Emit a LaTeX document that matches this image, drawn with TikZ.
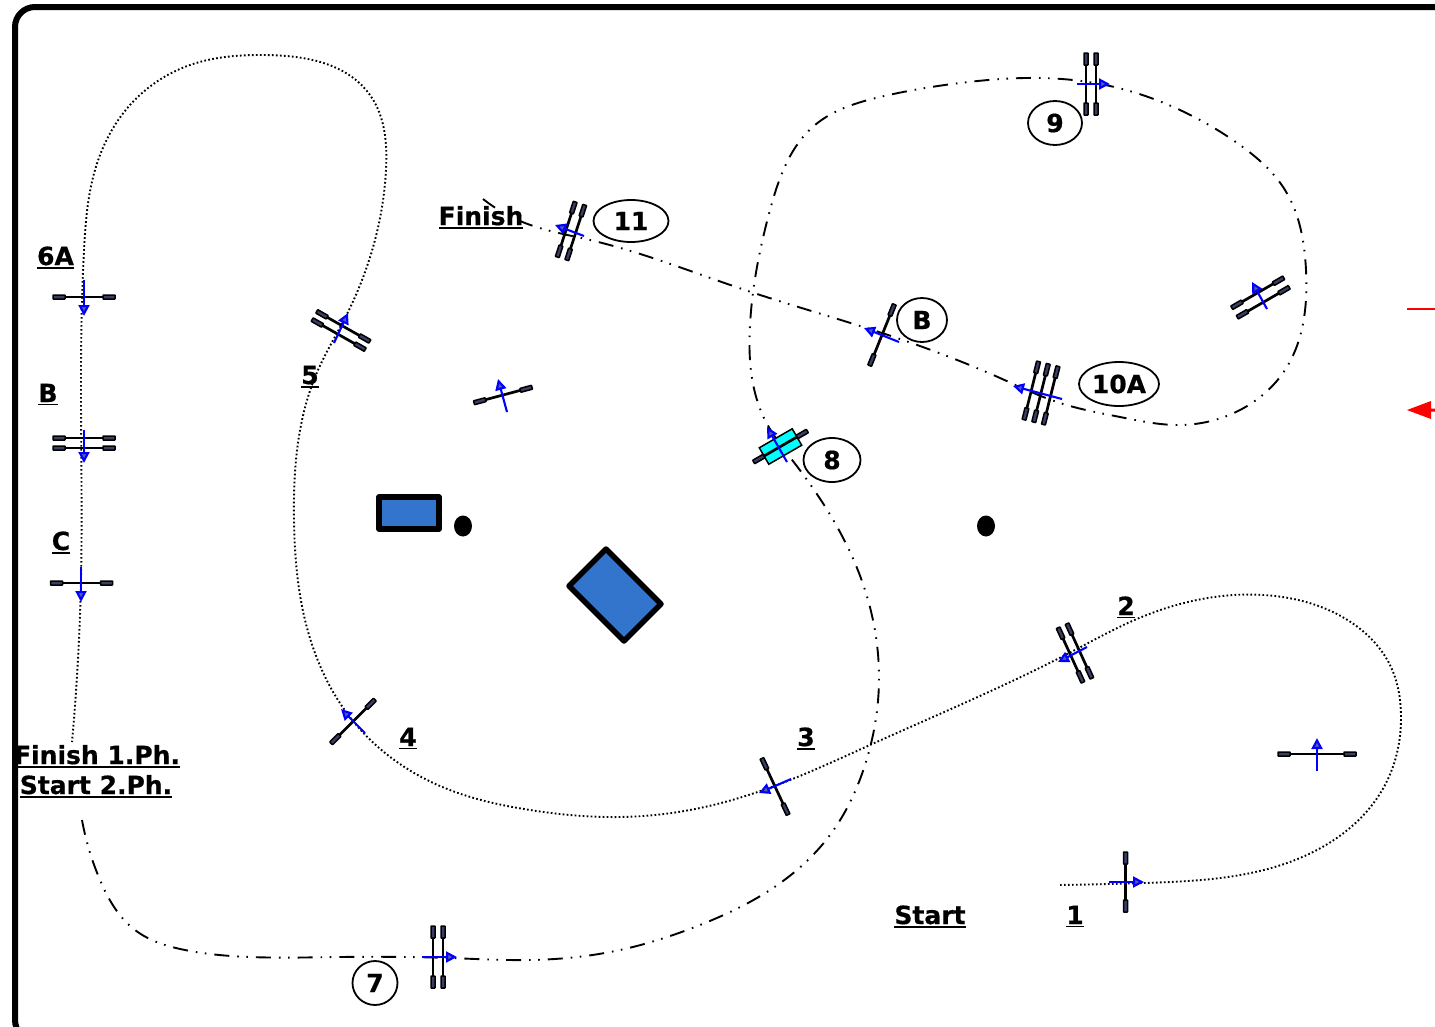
\documentclass[tikz,border=0pt]{standalone}
\usepackage{fontspec}
\setmainfont{DejaVu Sans}[BoldFeatures={FakeBold=0.6}]
\usetikzlibrary{arrows.meta,shapes.geometric,hobby}
\definecolor{obstacle}{HTML}{3374CC}
\definecolor{barblock}{HTML}{3A3F66}
\definecolor{waterfill}{RGB}{0,255,255}
\newcommand{\ulab}[1]{\vtop{\hbox{#1}\kern1.5pt\hrule height 1.8pt}}
\newcommand{\fencerails}[5]{%
  \begin{scope}[shift={(#1,#2)},rotate=#3]
    \foreach \off in {#5} {
      \draw[railline] (-#4,\off) -- (#4,\off);
      \draw[railblock] (-#4,\off-2) rectangle (-#4+12,\off+2);
      \draw[railblock] (#4-12,\off-2) rectangle (#4,\off+2);
    }
  \end{scope}}
\tikzset{
  railline/.style={black,line width=2.7pt},
  railblock/.style={draw=black,fill=barblock,line width=1.5pt,rounded corners=0.5pt},
  jumparrow/.style={blue,line width=2.1pt,-{Triangle[length=11pt,width=11pt,fill=gray!70!blue]}},
  phaseone/.style={black,line width=1.9pt,dash pattern=on 1.7pt off 2.3pt},
  phasetwo/.style={black,line width=1.9pt,dash pattern=on 15pt off 8pt on 1.6pt off 7.5pt on 1.6pt off 8pt},
  numoval/.style={draw=black,line width=1.8pt,ellipse,inner sep=0pt,fill=white},
  lab/.style={anchor=base,inner sep=0pt},
  block/.style={draw=black,line width=5.5pt,fill=obstacle,line join=round},
  every node/.append style={font=\fontsize{25}{30}\selectfont\bfseries}
}
\begin{document}
\begin{tikzpicture}[x=1pt,y=-1pt,use Hobby shortcut]
\useasboundingbox[fill=white] (0,0) rectangle (1435,1026);
% arena border
\draw[black,line width=6pt,rounded corners=20pt] (1435,7) -- (15,7) -- (15,1040) -- (40,1040);
% course, first phase
\draw[phaseone] (1060,885) .. (1144,883) .. (1300,858) .. (1385,785) .. (1401,715) .. (1390,665) .. (1355,625) .. (1275,596) .. (1130,622) .. (1075,650) .. (870,745) .. (790,780) .. (700,808) .. (620,817) .. (530,810) .. (440,786) .. (353,721) .. (305,620) .. (294,520) .. (318,370) .. (345,318) .. (375,240) .. (386,170) .. (370,95) .. (265,55) .. (190,65) .. (130,105) .. (95,170) .. (84,250) .. (81,400) .. (81,580) .. (72,742);
% course, second phase
\draw[phasetwo] (82,820) .. (100,880) .. (135,930) .. (185,950) .. (250,957) .. (340,957) .. (450,958) .. (530,960) .. (620,950) .. (700,925) .. (770,890) .. (830,835) .. (865,765) .. (879,680) .. (865,590) .. (796,465) .. (765,420) .. (750,325) .. (770,210) .. (815,125) .. (880,97) .. (960,83) .. (1040,78) .. (1110,86) .. (1180,110) .. (1240,145) .. (1285,190) .. (1306,270) .. (1285,370) .. (1240,410) .. (1180,425) .. (1120,417) .. (1060,403) .. (1000,378) .. (882,333) .. (745,290) .. (590,240) .. (525,223) .. (483,199);
% obstacles and markers
\draw[block] (379,497) rectangle (439,529);
\draw[block] (606,549) -- (661,604) -- (624,641) -- (569,586) -- cycle;
\fill[black] (463,526) ellipse[x radius=9,y radius=10.5];
\fill[black] (986,526) ellipse[x radius=9,y radius=10.5];
% red start line markers
\draw[red,line width=1.5pt] (1407,309) -- (1435,309);
\fill[red] (1407,410) -- (1431,401) -- (1431,408.5) -- (1435,408.5) -- (1435,411.5) -- (1431,411.5) -- (1431,419) -- cycle;
% fences
\fencerails{84}{297}{0}{31}{0}
\fencerails{84}{443}{0}{31}{-5,5}
\fencerails{81.5}{583}{0}{31}{0}
\fencerails{341}{330.5}{-29.5}{30.5}{-4.7,4.7}
\fencerails{503}{395}{15}{30}{0}
\fencerails{353}{721.5}{45}{31}{0}
\fencerails{775}{786.5}{-65}{31}{0}
\fencerails{1075}{653}{-65.5}{30}{-4.9,4.9}
\fencerails{1125.5}{882}{90}{30}{0}
\fencerails{1317}{754}{0}{39}{0}
\fencerails{438}{957}{90}{31}{-5,5}
\fill[waterfill,draw=black,line width=1.5pt,rotate around={30:(780.5,446.5)}] (761.5,437) rectangle (799.5,456);
\fencerails{780.5}{446.5}{30}{31}{0}
\fencerails{1091}{84}{90}{31}{-5,5}
\fencerails{1041}{393}{76}{30}{-10,0,10}
\fencerails{882}{335}{68}{33}{0}
\fencerails{571}{231}{72}{29}{-5,5}
\fencerails{1260.5}{297.5}{30}{30}{-5.5,5.5}
% direction arrows
\draw[jumparrow] (84,280) -- (84,316);
\draw[jumparrow] (84,430) -- (84,463);
\draw[jumparrow] (81,567) -- (81,602);
\draw[jumparrow] (334,343) -- (348,313);
\draw[jumparrow] (507,412) -- (498,379);
\draw[jumparrow] (365,733) -- (341,709);
\draw[jumparrow] (791,779) -- (759,793);
\draw[jumparrow] (1087,647) -- (1058,662);
\draw[jumparrow] (1109,882) -- (1144,882);
\draw[jumparrow] (1317,771) -- (1317,738);
\draw[jumparrow] (422,957) -- (457,957);
\draw[jumparrow] (787,462) -- (767,427);
\draw[jumparrow] (1077,84) -- (1110,84);
\draw[jumparrow] (1062,399) -- (1013,386);
\draw[jumparrow] (899,342) -- (864,328);
\draw[jumparrow] (584,236) -- (555,225);
\draw[jumparrow] (1267,309) -- (1252,282);
% oval number labels
\node[numoval,minimum width=75pt,minimum height=42pt] (n11) at (631,221) {11};
\node[numoval,minimum width=54pt,minimum height=44pt] (n9) at (1055,123) {9};
\node[numoval,minimum width=50pt,minimum height=44pt] (nB) at (922,320) {B};
\node[numoval,minimum width=80pt,minimum height=44pt] (n10A) at (1119,384) {10A};
\node[numoval,minimum width=57pt,minimum height=44pt] (n8) at (832,460) {8};
\node[numoval,minimum width=45pt,minimum height=44pt] (n7) at (375,983) {7};
% underlined labels
\node[lab] (l6A) at (55.5,265) {\ulab{6A}};
\node[lab] (lB) at (48,402) {\ulab{B}};
\node[lab] (lC) at (61,550) {\ulab{C}};
\node[lab] (l5) at (310,384) {\ulab{5}};
\node[lab] (l4) at (408,746) {\ulab{4}};
\node[lab] (l3) at (806,746) {\ulab{3}};
\node[lab] (l2) at (1126,615) {\ulab{2}};
\node[lab] (l1) at (1075,924) {\ulab{1}};
\node[lab] (lstart) at (930,924) {\ulab{Start}};
\node[lab] (lfinish) at (481,225) {\ulab{Finish}};
\node[lab] (lfinishone) at (97,764) {\ulab{Finish 1.Ph.}};
\node[lab] (lstarttwo) at (96,794) {\ulab{Start 2.Ph.}};
\end{tikzpicture}
\end{document}
